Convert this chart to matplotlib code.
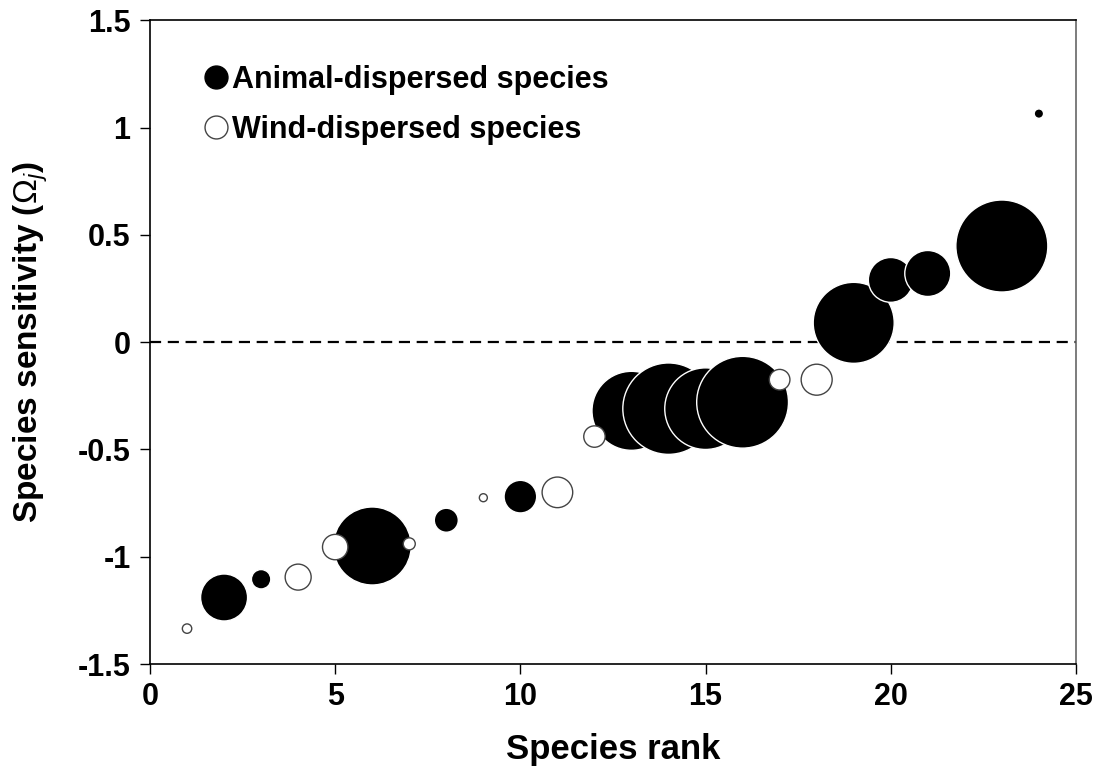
import matplotlib
matplotlib.use("Agg")
import matplotlib.pyplot as plt
from matplotlib.lines import Line2D

plt.rcParams['font.family'] = ['Liberation Sans', 'DejaVu Sans']
plt.rcParams['mathtext.fontset'] = 'custom'
plt.rcParams['mathtext.rm'] = 'Liberation Sans'
plt.rcParams['mathtext.it'] = 'Liberation Sans:italic'

# ---- data ----
rank = [1, 2, 3, 4, 5, 6, 7, 8, 9, 10, 11, 12, 13, 14, 15, 16, 17, 18, 19, 20, 21, 23, 24]
sensitivity = [-1.335, -1.19, -1.105, -1.095, -0.955, -0.95, -0.94, -0.83, -0.725, -0.72,
               -0.70, -0.44, -0.32, -0.31, -0.31, -0.28, -0.175, -0.175, 0.09, 0.29,
               0.32, 0.448, 1.065]
dispersal = ['wind', 'animal', 'animal', 'wind', 'wind', 'animal', 'wind', 'animal', 'wind',
             'animal', 'wind', 'wind', 'animal', 'animal', 'animal', 'animal', 'wind', 'wind',
             'animal', 'animal', 'animal', 'animal', 'animal']
bubble = [4.7, 23.5, 9.7, 13, 12.7, 39, 6, 12, 4, 16.3, 15.3, 10.7, 39.5, 45.7, 40.8, 45.9,
          10.3, 15.5, 40.5, 22.4, 23, 46, 4.7]

xticks = [0, 5, 10, 15, 20, 25]
yticks = [-1.5, -1, -0.5, 0, 0.5, 1, 1.5]
ytick_labels = ['-1.5', '-1', '-0.5', '0', '0.5', '1', '1.5']

fig = plt.figure(figsize=(10.99, 7.8), dpi=100)
ax = fig.add_axes([0.1365, 0.1487, 0.8425, 0.8253])


def area(r):
    return (2 * r * 0.72) ** 2


an = [i for i, d in enumerate(dispersal) if d == 'animal']
wi = [i for i, d in enumerate(dispersal) if d == 'wind']

ax.scatter([rank[i] for i in an], [sensitivity[i] for i in an],
           s=[area(bubble[i]) for i in an], c='black', edgecolors='white',
           linewidths=1.0, zorder=3)
ax.scatter([rank[i] for i in wi], [sensitivity[i] for i in wi],
           s=[area(bubble[i]) for i in wi], c='white', edgecolors='#444444',
           linewidths=1.0, zorder=4)

ax.axhline(0, color='black', linestyle=(0, (5, 3)), linewidth=1.6, zorder=2)

ax.set_xlim(0, 25)
ax.set_ylim(-1.5, 1.5)
ax.set_xticks(xticks)
ax.set_xticklabels([str(t) for t in xticks])
ax.set_yticks(yticks)
ax.set_yticklabels(ytick_labels)
ax.tick_params(axis='both', direction='out', length=7, width=1.0, labelsize=22)
ax.tick_params(axis='y', pad=7)
ax.tick_params(axis='x', pad=6)
for lab in ax.get_xticklabels() + ax.get_yticklabels():
    lab.set_fontweight('bold')
for sp in ax.spines.values():
    sp.set_linewidth(1.2)
ax.spines['right'].set_color('#666666')

ax.set_xlabel('Species rank', fontsize=25, fontweight='bold', labelpad=15)
ax.set_ylabel(r'Species sensitivity ($\Omega_{j}$)', fontsize=24, fontweight='bold', labelpad=20)

handles = [Line2D([], [], marker='o', linestyle='none', markersize=16.5,
                  markerfacecolor='black', markeredgecolor='black'),
           Line2D([], [], marker='o', linestyle='none', markersize=16.5,
                  markerfacecolor='white', markeredgecolor='#444444', markeredgewidth=1.0)]
leg = ax.legend(handles, ['Animal-dispersed species', 'Wind-dispersed species'],
                loc='upper left', bbox_to_anchor=(0.0415, 0.954), frameon=False,
                handlelength=0.8, handletextpad=0.12, labelspacing=0.64, borderpad=0,
                prop={'size': 22, 'weight': 'bold'})

fig.savefig('out.png', dpi=100)
